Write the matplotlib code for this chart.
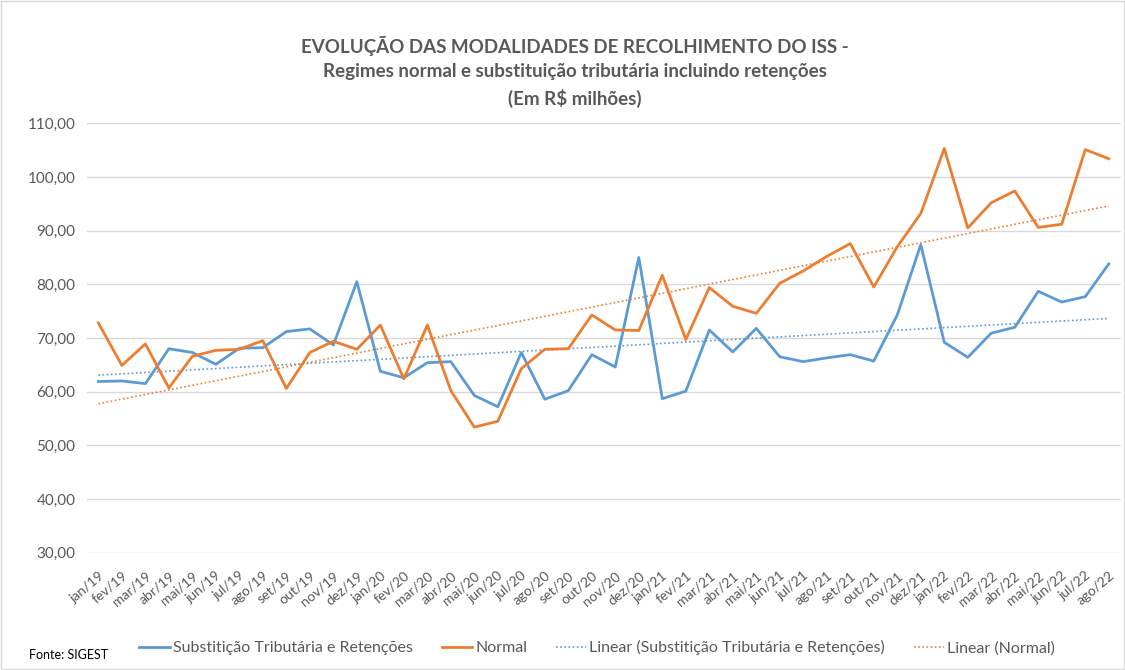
import numpy as np
import matplotlib
matplotlib.use('Agg')
import matplotlib.pyplot as plt
from matplotlib.ticker import FuncFormatter

plt.rcParams['font.family'] = ['Lato', 'DejaVu Sans']

months = ['jan', 'fev', 'mar', 'abr', 'mai', 'jun', 'jul', 'ago', 'set', 'out', 'nov', 'dez']
years = ['19', '20', '21', '22']
labels = [m + '/' + y for y in years for m in months][:44]

# Substituição tributária e retenções (R$ milhões)
substituicao = [61.9, 62.0, 61.5, 68.0, 67.3, 65.1, 68.1, 68.2, 71.2, 71.7, 68.7, 80.5,
                63.8, 62.6, 65.4, 65.6, 59.3, 57.2, 67.3, 58.6, 60.2, 66.9, 64.6, 85.0,
                58.7, 60.1, 71.5, 67.4, 71.8, 66.5, 65.6, 66.3, 66.9, 65.7, 74.3, 87.4,
                69.2, 66.4, 70.9, 72.0, 78.7, 76.7, 77.7, 83.8]

# Regime normal (R$ milhões)
normal = [72.8, 64.9, 68.9, 60.7, 66.6, 67.7, 67.9, 69.5, 60.6, 67.3, 69.4, 67.9,
          72.4, 62.4, 72.4, 60.2, 53.4, 54.5, 64.3, 67.9, 68.0, 74.3, 71.5, 71.4,
          81.7, 69.7, 79.4, 75.9, 74.6, 80.2, 82.5, 85.2, 87.6, 79.5, 87.0, 93.2,
          105.3, 90.5, 95.2, 97.4, 90.6, 91.2, 105.1, 103.4]

blue = '#5B9BD5'
orange = '#ED7D31'
grey_txt = '#595959'

x = np.arange(len(labels))

# trend lines (linear regression, like Excel)
trend_st = np.polyval(np.polyfit(x, substituicao, 1), x)
trend_n = np.polyval(np.polyfit(x, normal, 1), x)

fig = plt.figure(figsize=(11.25, 6.7), dpi=100)
ax = fig.add_axes([0.077, 0.175, 0.919, 0.641])

ax.plot(x, substituicao, color=blue, lw=2.0, label='Substitição Tributária e Retenções', zorder=3)
ax.plot(x, normal, color=orange, lw=2.0, label='Normal', zorder=3)
ax.plot(x, trend_st, color=blue, lw=1.2, ls=(0, (1, 1.5)), label='Linear (Substitição Tributária e Retenções)', zorder=2)
ax.plot(x, trend_n, color=orange, lw=1.2, ls=(0, (1, 1.5)), label='Linear (Normal)', zorder=2)

ax.set_xlim(-0.5, len(labels) - 0.5)
ax.set_ylim(30, 110)
ax.set_yticks(np.arange(30, 111, 10))
ax.yaxis.set_major_formatter(FuncFormatter(lambda v, p: f'{v:.2f}'.replace('.', ',')))
ax.set_xticks(x)
ax.set_xticklabels(labels, rotation=40, ha='right', rotation_mode='anchor', fontsize=10, color=grey_txt)
ax.tick_params(axis='y', labelsize=11, labelcolor=grey_txt, length=0, pad=8)
ax.tick_params(axis='x', length=0, pad=12)
ax.grid(axis='y', color='#D9D9D9', lw=1)
ax.set_axisbelow(True)
for s in ax.spines.values():
    s.set_visible(False)

fig.text(0.511, 0.932, 'EVOLUÇÃO DAS MODALIDADES DE RECOLHIMENTO DO ISS -', ha='center', va='center',
         fontsize=13.5, fontweight='bold', color=grey_txt)
fig.text(0.511, 0.894, 'Regimes normal e substituição tributária incluindo retenções', ha='center', va='center',
         fontsize=13.5, fontweight='bold', color=grey_txt)
fig.text(0.511, 0.853, '(Em R$ milhões)', ha='center', va='center',
         fontsize=13.5, fontweight='bold', color=grey_txt)

leg = fig.legend(loc='center', bbox_to_anchor=(0.531, 0.033), ncol=4, frameon=False,
                 fontsize=11.5, handlelength=1.9, handletextpad=0.2, columnspacing=1.8)
for t in leg.get_texts():
    t.set_color(grey_txt)

fig.text(0.026, 0.022, 'Fonte: SIGEST', fontsize=9, color='black', va='center')

# chart border
fig.add_artist(plt.Rectangle((0.001, 0.001), 0.998, 0.998, transform=fig.transFigure,
                             fill=False, edgecolor='#D9D9D9', lw=1))

fig.savefig('out.png', dpi=100)
